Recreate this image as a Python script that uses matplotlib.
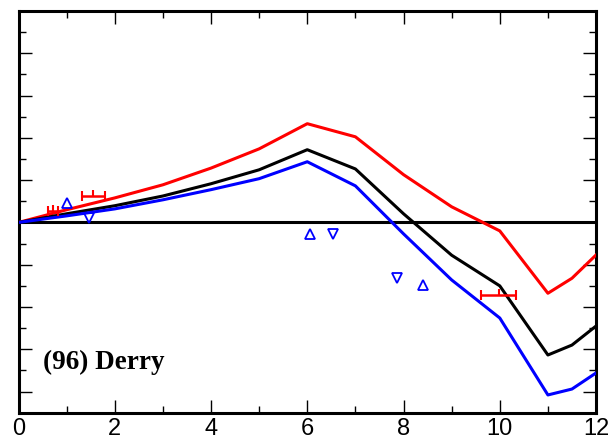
import matplotlib
matplotlib.use("Agg")
import matplotlib.pyplot as plt
import numpy as np

# model curves (months)
months = [0, 1, 2, 3, 4, 5, 6, 7, 8, 9, 10, 11, 11.5, 12]
red_vals = [0, 0.60, 1.16, 1.78, 2.57, 3.48, 4.67, 4.05, 2.26, 0.74, -0.40, -3.35, -2.64, -1.54]
black_vals = [0, 0.41, 0.79, 1.25, 1.83, 2.49, 3.44, 2.53, 0.41, -1.55, -3.00, -6.27, -5.80, -4.90]
blue_vals = [0, 0.31, 0.64, 1.07, 1.55, 2.07, 2.87, 1.73, -0.54, -2.72, -4.52, -8.16, -7.88, -7.12]

# observations with horizontal error bars
obs_x = [0.72, 1.55, 9.98]
obs_y = [0.56, 1.26, -3.41]
obs_xerr = [0.10, 0.24, 0.36]

# triangle observations
tri_up_x = [1.01, 6.06, 8.41]
tri_up_y = [0.94, -0.54, -2.96]
tri_dn_x = [1.46, 6.54, 7.87]
tri_dn_y = [0.20, -0.56, -2.64]

label = "(96) Derry"

fig = plt.figure(figsize=(6.11, 4.4), dpi=100)
ax = fig.add_axes([0.0303, 0.062, 0.9452, 0.913])

ax.axhline(0, color="black", lw=2.2, zorder=2)
ax.plot(months, red_vals, color="#ff0000", lw=2.2, zorder=3)
ax.plot(months, black_vals, color="black", lw=2.2, zorder=3)
ax.plot(months, blue_vals, color="#0000ff", lw=2.2, zorder=3)

ax.errorbar(obs_x, obs_y, xerr=obs_xerr, fmt="none", ecolor="#ff0000",
            elinewidth=1.8, capsize=3.5, capthick=1.5, zorder=4)
ax.plot(obs_x, obs_y, ls="none", marker=2, color="#ff0000", ms=4.5, mew=1.5, zorder=4)

ax.plot(tri_up_x, tri_up_y, ls="none", marker="^", mfc="none", mec="#0000ff",
        ms=7, mew=1.3, zorder=4)
ax.plot(tri_dn_x, tri_dn_y, ls="none", marker="v", mfc="none", mec="#0000ff",
        ms=7, mew=1.3, zorder=4)

ax.text(0.51, -6.94, label, family="Liberation Serif", fontweight="bold",
        fontsize=19.5, va="baseline", ha="left")

ax.set_xlim(0, 12)
ax.set_ylim(-9, 10)
ax.set_xticks(np.arange(0, 13, 2))
ax.set_xticks(np.arange(1, 12, 2), minor=True)
ax.set_yticks(np.arange(-8, 11, 2))
ax.set_yticks(np.arange(-9, 10, 2), minor=True)
ax.set_yticklabels([])
ax.tick_params(which="both", direction="in", top=True, right=True, width=1, colors="black")
ax.tick_params(which="major", length=9.5)
ax.tick_params(which="minor", length=5)
ax.tick_params(axis="x", labelsize=17, pad=4)
for lab in ax.get_xticklabels():
    lab.set_family("Liberation Sans")
for sp in ax.spines.values():
    sp.set_linewidth(2.2)

fig.savefig("out.png", dpi=100)
